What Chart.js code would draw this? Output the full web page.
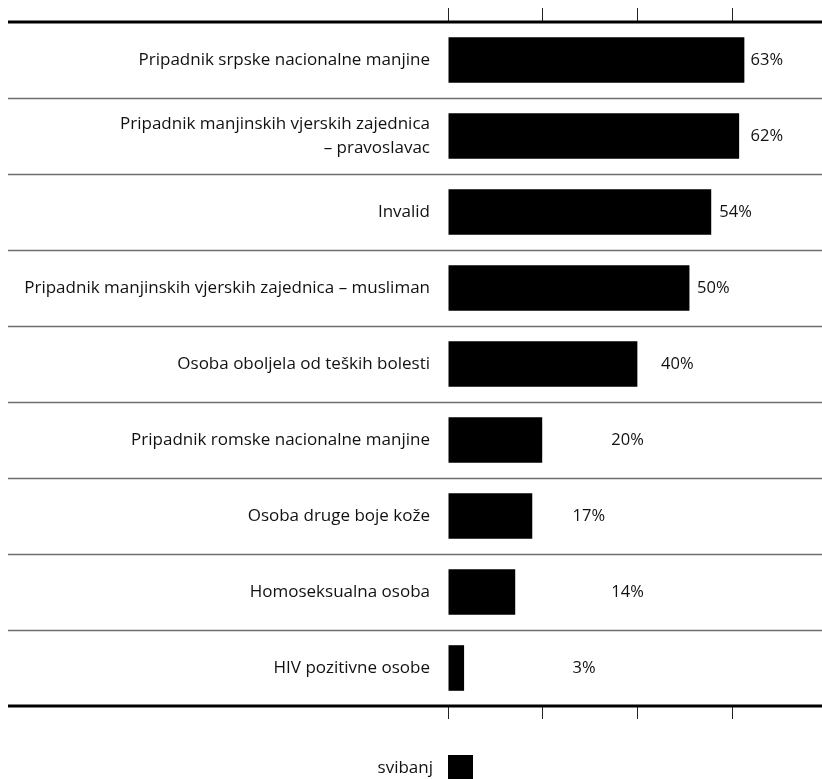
<!DOCTYPE html>
<html>
<head>
<meta charset="utf-8">
<script src="https://cdn.jsdelivr.net/npm/chart.js@4"></script>
<style>
html,body{margin:0;padding:0;background:#fff;}
#wrap{width:822px;height:779px;}
</style>
</head>
<body>
<div id="wrap"><canvas id="chart" width="822" height="779"></canvas></div>
<script>
const categories = [
  "Pripadnik srpske nacionalne manjine",
  ["Pripadnik manjinskih vjerskih zajednica", "– pravoslavac"],
  "Invalid",
  "Pripadnik manjinskih vjerskih zajednica – musliman",
  "Osoba oboljela od teških bolesti",
  "Pripadnik romske nacionalne manjine",
  "Osoba druge boje kože",
  "Homoseksualna osoba",
  "HIV pozitivne osobe"
];
// bar lengths as drawn in the picture
const svibanj = [62.6, 61.5, 55.6, 51, 40, 19.9, 17.8, 14.2, 3.4];
// the printed percentages
const valueLabels = [63, 62, 54, 50, 40, 20, 17, 14, 3];
const xTicks = [0, 20, 40, 60];
const seriesName = "svibanj";

const FONT = "'Open Sans', sans-serif";

// where each printed value sits, in axis units
const labelAt = [63.9, 63.9, 57.3, 52.6, 45, 34.5, 26.3, 34.5, 26.3];

const framePlugin = {
  id: "frame",
  afterDraw(chart){
    const ctx = chart.ctx;
    const a = chart.chartArea;
    const y = chart.scales.y;
    const x = chart.scales.x;
    ctx.save();
    // separators between rows
    ctx.strokeStyle = "#6e6e6e";
    ctx.lineWidth = 1.5;
    for(let i=1;i<categories.length;i++){
      const py = Math.round((y.getPixelForTick(i-1)+y.getPixelForTick(i))/2)+0.5;
      ctx.beginPath();
      ctx.moveTo(8,py);
      ctx.lineTo(a.right,py);
      ctx.stroke();
    }
    // top and bottom rules
    ctx.strokeStyle = "#000";
    ctx.lineWidth = 3;
    [a.top, a.bottom].forEach(py=>{
      ctx.beginPath();
      ctx.moveTo(8,py);
      ctx.lineTo(a.right,py);
      ctx.stroke();
    });
    // value labels
    ctx.fillStyle = "#111";
    ctx.font = "16.5px " + FONT;
    ctx.textAlign = "left";
    ctx.textBaseline = "middle";
    const meta = chart.getDatasetMeta(0);
    meta.data.forEach((bar,i)=>{
      ctx.fillText(valueLabels[i]+"%", x.getPixelForValue(labelAt[i]), bar.y);
    });
    // legend
    const ds = chart.data.datasets[0];
    ctx.fillStyle = ds.backgroundColor;
    ctx.fillRect(a.left, a.bottom+49, 25, 25);
    ctx.fillStyle = "#111";
    ctx.textAlign = "right";
    ctx.font = "17px " + FONT;
    ctx.fillText(ds.label, a.left-15, a.bottom+62);
    ctx.restore();
  }
};

new Chart(document.getElementById("chart"),{
  type:"bar",
  data:{
    labels:categories,
    datasets:[{
      label:seriesName,
      data:svibanj,
      backgroundColor:"#000",
      borderWidth:0,
      barPercentage:1,
      categoryPercentage:0.6
    }]
  },
  options:{
    indexAxis:"y",
    responsive:false,
    animation:false,
    layout:{padding:0},
    plugins:{legend:{display:false},tooltip:{enabled:false}},
    scales:{
      x:{
        position:"top",
        min:0,max:79,
        afterBuildTicks(s){ s.ticks = xTicks.map(v=>({value:v})); },
        afterFit(s){ s.height = 22; s.paddingLeft = 0; s.paddingRight = 0; },
        border:{display:false},
        grid:{drawOnChartArea:false,drawTicks:true,tickLength:14,color:"#222",lineWidth:1},
        ticks:{display:false}
      },
      x2:{
        position:"bottom",
        min:0,max:79,
        afterBuildTicks(s){ s.ticks = xTicks.map(v=>({value:v})); },
        afterFit(s){ s.height = 73; s.paddingLeft = 0; s.paddingRight = 0; },
        border:{display:false},
        grid:{drawOnChartArea:false,drawTicks:true,tickLength:13,color:"#222",lineWidth:1},
        ticks:{display:false}
      },
      y:{
        afterFit(s){ s.width = 448; s.paddingTop = 0; s.paddingBottom = 0; },
        border:{display:false},
        grid:{display:false,drawTicks:false},
        ticks:{
          color:"#111",
          padding:18,
          font:{family:FONT,size:17,lineHeight:1.4}
        }
      }
    }
  },
  plugins:[framePlugin]
});
</script>
</body>
</html>
